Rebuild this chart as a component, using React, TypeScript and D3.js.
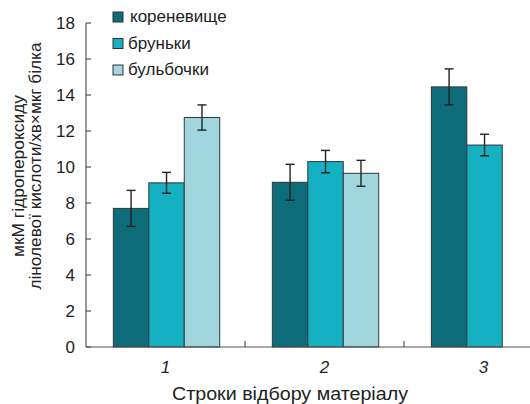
import React from "react";
import * as d3 from "d3";

const categories = ["1", "2", "3"];
const seriesNames = ["кореневище", "бруньки", "бульбочки"];
const rhizome = [7.7, 9.15, 14.45];
const rhizomeErr = [1.0, 1.0, 1.0];
const buds = [9.12, 10.3, 11.22];
const budsErr = [0.58, 0.62, 0.6];
const tubers: (number | null)[] = [12.75, 9.65, null];
const tubersErr: (number | null)[] = [0.7, 0.72, null];
const yTicks = [0, 2, 4, 6, 8, 10, 12, 14, 16, 18];
const colors = ["#0e6b79", "#15b0c1", "#a0d5de"];

const W = 530;
const H = 404;
const left = 86;
const zeroY = 347;
const topY = 23;

export default function App() {
  const y = d3.scaleLinear().domain([0, 18]).range([zeroY, topY]);
  const x0 = d3.scaleBand<string>().domain(categories).range([left, left + 159 * 3]).padding(0);
  const bw = x0.bandwidth();
  const x1 = d3.scaleBand<string>().domain(seriesNames).range([bw * 0.172, bw * 0.841]).padding(0);
  const vals = [rhizome, buds, tubers];
  const errs = [rhizomeErr, budsErr, tubersErr];
  const font = "'Liberation Sans', Arial, sans-serif";
  const boundaries = categories.slice(1).map((c) => x0(c) as number);

  return (
    <svg width={W} height={H} style={{ position: "absolute", left: 0, top: 0, fontFamily: font }}>
      <rect x={0} y={0} width={W} height={H} fill="#fff" />
      {categories.map((c, ci) =>
        seriesNames.map((s, si) => {
          const v = vals[si][ci];
          if (v == null) return null;
          const bx = (x0(c) as number) + (x1(s) as number);
          return (
            <rect
              key={c + s}
              x={bx}
              y={y(v)}
              width={x1.bandwidth()}
              height={zeroY - y(v)}
              fill={colors[si]}
              stroke="#2e3a3d"
              strokeWidth={1}
            />
          );
        })
      )}
      {categories.map((c, ci) =>
        seriesNames.map((s, si) => {
          const v = vals[si][ci];
          const e = errs[si][ci];
          if (v == null || e == null) return null;
          const cx = (x0(c) as number) + (x1(s) as number) + x1.bandwidth() / 2;
          return (
            <g key={"e" + c + s} stroke="#222" strokeWidth={1.4}>
              <line x1={cx} x2={cx} y1={y(v + e)} y2={y(v - e)} />
              <line x1={cx - 4.5} x2={cx + 4.5} y1={y(v + e)} y2={y(v + e)} />
              <line x1={cx - 4.5} x2={cx + 4.5} y1={y(v - e)} y2={y(v - e)} />
            </g>
          );
        })
      )}
      <line x1={left} x2={left} y1={topY} y2={zeroY} stroke="#555" strokeWidth={1.2} />
      <line x1={left} x2={x0.range()[1]} y1={zeroY} y2={zeroY} stroke="#555" strokeWidth={1.2} />
      {yTicks.map((t) => (
        <g key={t}>
          <line x1={left} x2={left + 5} y1={y(t)} y2={y(t)} stroke="#555" strokeWidth={1.2} />
          <text x={75} y={y(t) + 6} textAnchor="end" fontSize={17} fill="#222">
            {t}
          </text>
        </g>
      ))}
      {boundaries.map((b, i) => (
        <line key={i} x1={b} x2={b} y1={zeroY} y2={zeroY - 6} stroke="#555" strokeWidth={1.2} />
      ))}
      {categories.map((c) => (
        <text
          key={c}
          x={(x0(c) as number) + bw / 2}
          y={373}
          textAnchor="middle"
          fontSize={17}
          fontStyle="italic"
          fill="#222"
        >
          {c}
        </text>
      ))}
      <text x={290} y={400} textAnchor="middle" fontSize={17.5} fill="#222" textLength={236} lengthAdjust="spacingAndGlyphs">
        Строки відбору матеріалу
      </text>
      <g transform="translate(24, 0) rotate(-90)">
        <text x={-176} y={0} textAnchor="middle" fontSize={17} fill="#222" textLength={162} lengthAdjust="spacingAndGlyphs">
          мкМ гідропероксиду
        </text>
        <text x={-166} y={17} textAnchor="middle" fontSize={17} fill="#222" textLength={247} lengthAdjust="spacingAndGlyphs">
          лінолевої кислоти/хв×мкг білка
        </text>
      </g>
      {seriesNames.map((s, i) => (
        <g key={s} transform={`translate(113, ${12 + i * 26.5})`}>
          <rect x={0} y={0} width={10} height={10} fill={colors[i]} stroke="#333" strokeWidth={1} />
          <text x={i === 0 ? 17 : 15} y={10} fontSize={17} fill="#222">
            {s}
          </text>
        </g>
      ))}
    </svg>
  );
}
